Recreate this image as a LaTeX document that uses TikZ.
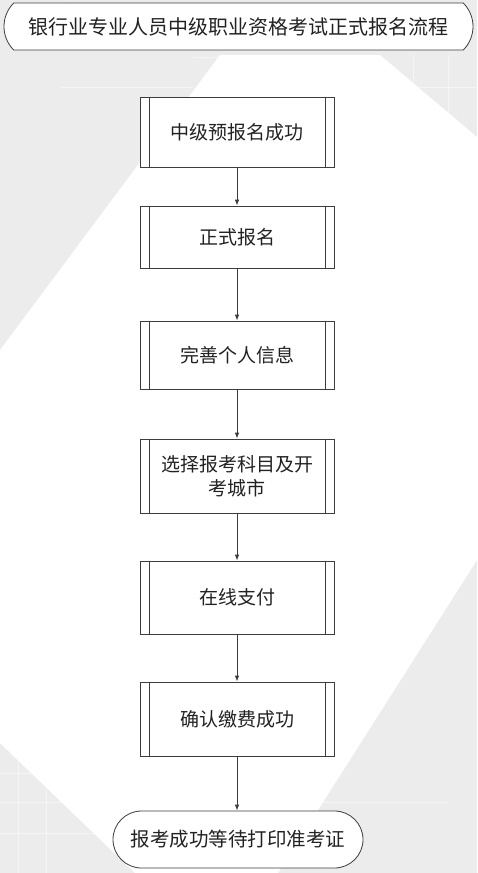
\documentclass[tikz,border=0pt]{standalone}
\usepackage{fontspec}
\newfontfamily\cjk{Noto Sans CJK SC}
\usetikzlibrary{shapes.misc,arrows.meta}
\definecolor{linec}{HTML}{3C3C3C}
\definecolor{bggray}{HTML}{ECECEC}
\definecolor{txtc}{HTML}{222222}
\begin{document}
\begin{tikzpicture}[x=1pt,y=-1pt,
  proc/.style={draw=linec, line width=0.8pt, fill=white, minimum width=194pt,
    text width=180pt, align=center, text=txtc,
    font=\cjk\fontsize{19}{24}\selectfont, inner sep=0pt},
  term/.style={rounded rectangle, draw=linec, fill=white, line width=0.8pt,
    inner sep=0pt, text=txtc},
  bar/.style={draw=linec, line width=0.8pt},
  arr/.style={draw=linec, line width=0.8pt, -{Latex[length=6pt,width=4.5pt]}},
  grid/.style={draw=white, line width=1pt, opacity=0.5}]
\useasboundingbox (0,0) rectangle (477,873);
% background
\fill[bggray] (0,0) rectangle (477,873);
\draw[grid] (60,87) -- (193,87);
\draw[grid] (193,57) -- (220,57);
\draw[grid] (413,55) -- (413,120);
\draw[grid] (448,55) -- (448,120);
\draw[grid] (380,87) -- (477,87);
\draw[grid] (0,773) -- (100,773);
\draw[grid] (0,802) -- (130,802);
\draw[grid] (0,833) -- (130,833);
\draw[grid] (18,743) -- (18,873);
\draw[grid] (46,743) -- (46,873);
\draw[grid] (320,802) -- (447,802);
\fill[white] (220,55) -- (380,55) -- (477,137) -- (477,560) -- (278,873)
  -- (135,873) -- (0,743) -- (0,350) -- cycle;
% nodes
\node[term, rounded rectangle arc length=90, minimum width=469pt, minimum height=47pt,
  font=\cjk\fontsize{20}{24}\selectfont] (title) at (238.5,26.5)
  {银行业专业人员中级职业资格考试正式报名流程};
\node[proc, minimum height=70pt] (n1) at (237,132) {中级预报名成功};
\node[proc, minimum height=62pt] (n2) at (237,237) {正式报名};
\node[proc, minimum height=68pt] (n3) at (237,355) {完善个人信息};
\node[proc, minimum height=74pt] (n4) at (237,476) {选择报考科目及开\\考城市};
\node[proc, minimum height=73pt] (n5) at (237,597.5) {在线支付};
\node[proc, minimum height=74pt] (n6) at (237,719) {确认缴费成功};
\node[term, rounded rectangle arc length=180, minimum width=250pt, minimum height=57pt,
  font=\cjk\fontsize{19.5}{24}\selectfont] (end) at (238,839.5)
  {报考成功等待打印准考证};
\foreach \n in {n1,n2,n3,n4,n5,n6}{
  \draw[bar] ([xshift=10pt]\n.north west) -- ([xshift=10pt]\n.south west);
  \draw[bar] ([xshift=-9pt]\n.north east) -- ([xshift=-9pt]\n.south east);
}
\draw[arr] (n1) -- (n2);
\draw[arr] (n2) -- (n3);
\draw[arr] (n3) -- (n4);
\draw[arr] (n4) -- (n5);
\draw[arr] (n5) -- (n6);
\draw[arr] (n6.south) -- (end.north -| n6.south);
\end{tikzpicture}
\end{document}
